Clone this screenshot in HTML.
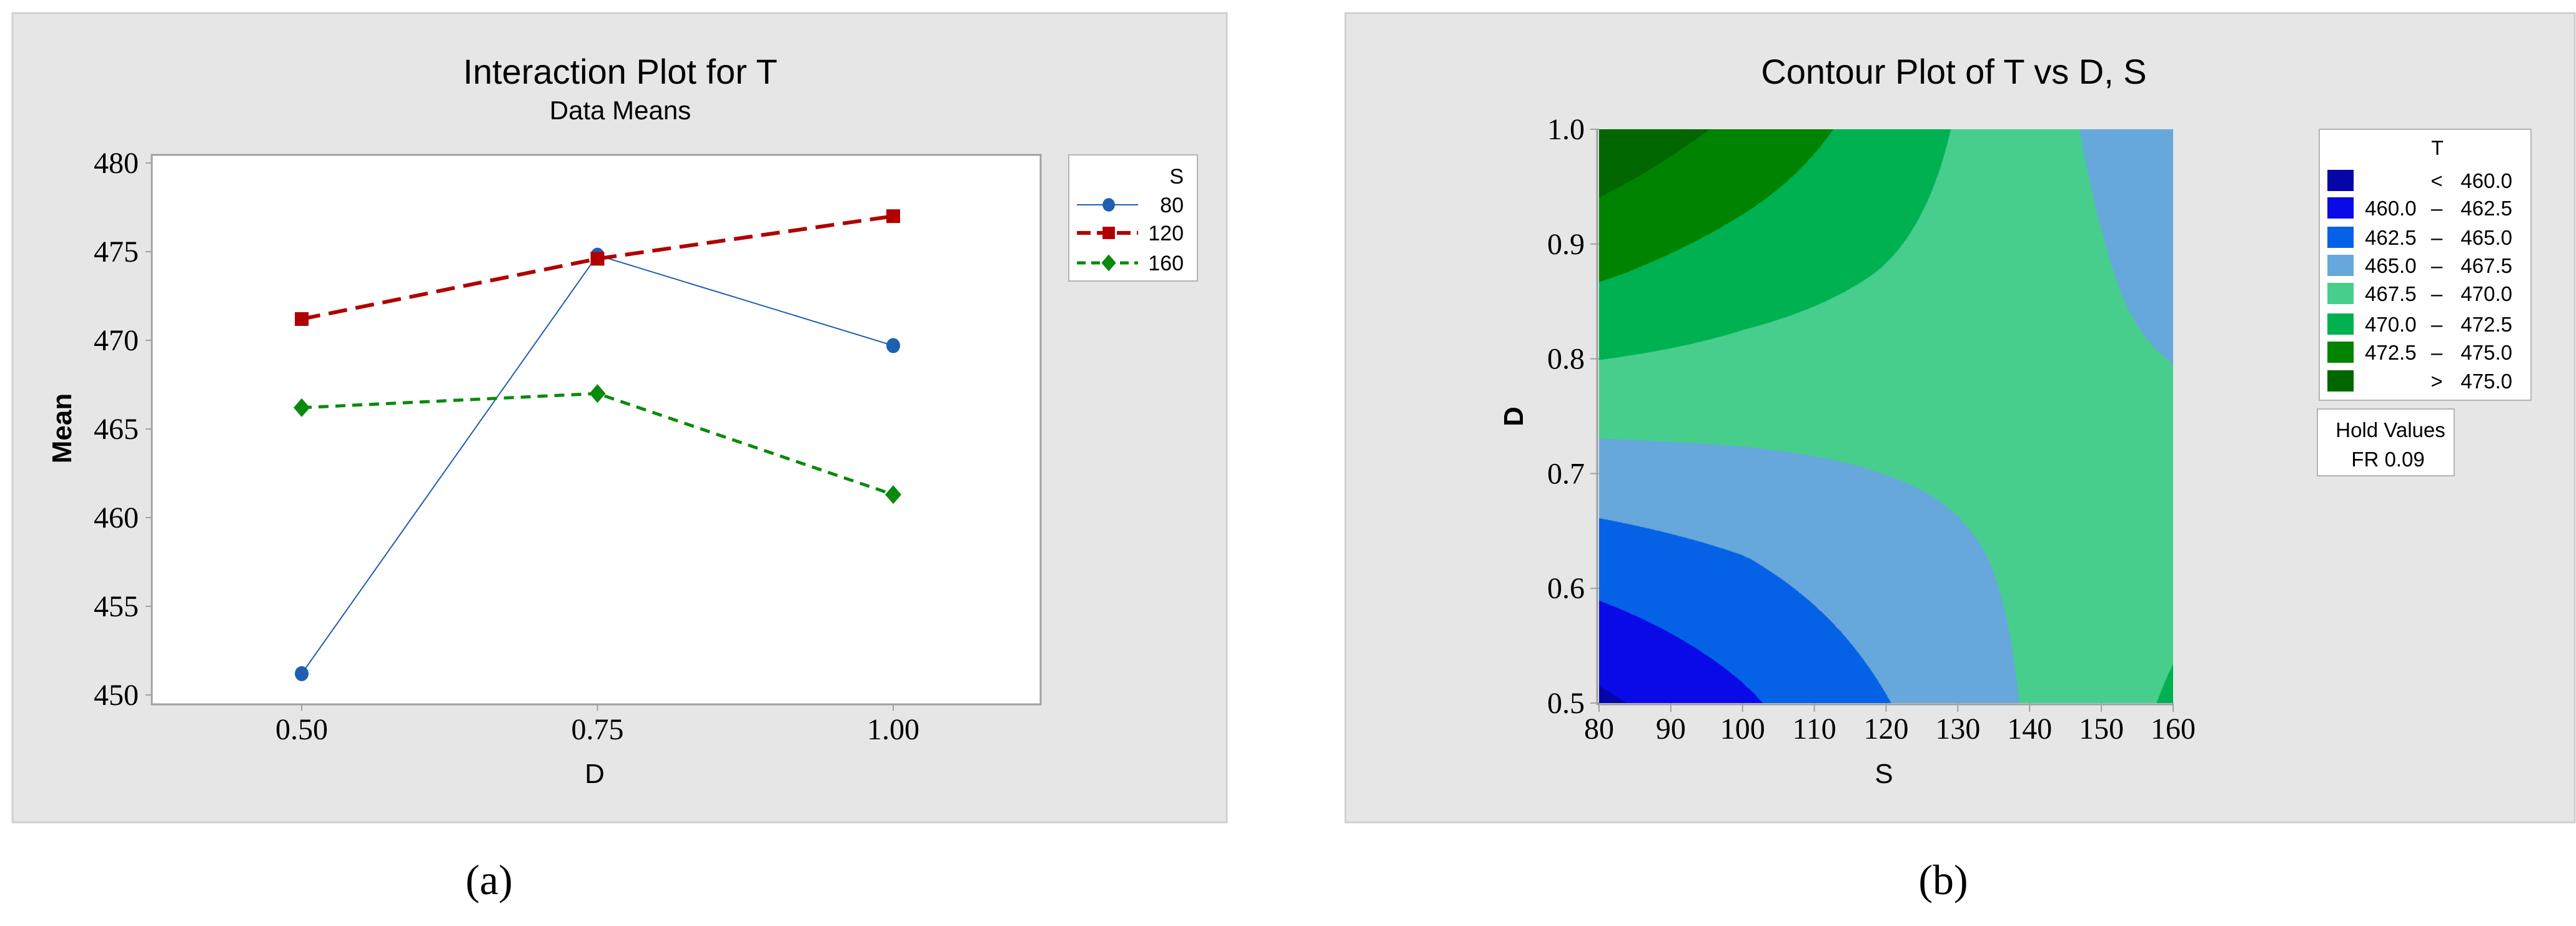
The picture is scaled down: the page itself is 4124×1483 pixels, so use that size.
<!DOCTYPE html>
<html><head><meta charset="utf-8"><style>
html,body{margin:0;padding:0;background:#fff;}
#wrap{position:relative;width:4124px;height:1483px;overflow:hidden;}
svg{position:absolute;left:0;top:0;}
#contour{position:absolute;}
</style></head><body>
<div id="wrap">
<svg id="svg" width="4124" height="1483" xmlns="http://www.w3.org/2000/svg" font-family="'Liberation Sans', sans-serif">
  <rect x="20" y="21" width="1944" height="1296" fill="#e6e6e6" stroke="#d0d0d0" stroke-width="3"/>
  <rect x="2154" y="21" width="1968" height="1296" fill="#e6e6e6" stroke="#d0d0d0" stroke-width="3"/>
  <g id="gA"></g>
  <g id="gB"></g>
  <text x="783" y="1432" font-family="'Liberation Serif', serif" font-size="68" text-anchor="middle">(a)</text>
  <text x="3111" y="1432" font-family="'Liberation Serif', serif" font-size="68" text-anchor="middle">(b)</text>
</svg>
<canvas id="contour"></canvas>
</div>
<script>
// ---- Interaction plot data ----
const dLevels = [0.50, 0.75, 1.00];
const dLabels = ["0.50", "0.75", "1.00"];
const meanTicks = [450, 455, 460, 465, 470, 475, 480];
const seriesNames = ["80", "120", "160"];
const meanS80 = [451.2, 474.8, 469.7];
const meanS120 = [471.2, 474.6, 477.0];
const meanS160 = [466.2, 467.0, 461.3];

// ---- Contour data ----
const sTicks = [80, 90, 100, 110, 120, 130, 140, 150, 160];
const dTicks = [0.5, 0.6, 0.7, 0.8, 0.9, 1.0];
const gridS = [80, 100, 120, 140, 160];
const gridD = [0.5, 0.625, 0.75, 0.875, 1.0];
// rows follow gridD, columns follow gridS
const gridT0 = [459.5, 462.1, 464.9, 467.7, 470.3];
const gridT1 = [463.7, 464.9, 466.5, 467.9, 469.2];
const gridT2 = [468.2, 468.2, 468.2, 468.2, 467.9];
const gridT3 = [472.8, 471.2, 469.9, 468.5, 466.8];
const gridT4 = [477.0, 474.4, 471.4, 468.3, 466.0];
const levelBreaks = [460.0, 462.5, 465.0, 467.5, 470.0, 472.5, 475.0];
const levelLabels = [["", "<", "460.0"], ["460.0", "–", "462.5"], ["462.5", "–", "465.0"], ["465.0", "–", "467.5"], ["467.5", "–", "470.0"], ["470.0", "–", "472.5"], ["472.5", "–", "475.0"], ["", ">", "475.0"]];
const levelColors = ["#0505a8", "#0a0ae8", "#0562e6", "#66a8dc", "#47ce8d", "#00b152", "#008300", "#006600"];

const NS = "http://www.w3.org/2000/svg";
function mk(parent, tag, attrs, text) {
  const e = document.createElementNS(NS, tag);
  for (const k in attrs) e.setAttribute(k, attrs[k]);
  if (text !== undefined) e.textContent = text;
  parent.appendChild(e);
  return e;
}
const serif = "'Liberation Serif', serif";

// ===== Panel A =====
const gA = document.getElementById('gA');
const ax = {x0: 243, x1: 1666, y0: 248, y1: 1128};
const xA = d => 483 + (d - 0.5) / 0.5 * (1430 - 483);
const yA = v => 261 + (480 - v) / 30 * (1113 - 261);
let e = mk(gA, 'rect', {x: ax.x0, y: ax.y0, width: ax.x1 - ax.x0, height: ax.y1 - ax.y0, fill: '#fff', stroke: '#a0a0a0', 'stroke-width': 3});


e = mk(gA, 'text', {x: 993, y: 134, 'font-size': 56, 'text-anchor': 'middle'}, 'Interaction Plot for T');


e = mk(gA, 'text', {x: 993, y: 191, 'font-size': 42, 'text-anchor': 'middle'}, 'Data Means');


meanTicks.forEach(v => {
  const y = yA(v);
  const t = mk(gA, 'line', {x1: ax.x0 - 10, x2: ax.x0, y1: y, y2: y, stroke: '#a0a0a0', 'stroke-width': 2});
  
  
  const l = mk(gA, 'text', {x: 222, y: y + 16, 'font-size': 48, 'font-family': serif, 'text-anchor': 'end'}, String(v));
  
  
});
dLevels.forEach((d, i) => {
  const x = xA(d);
  const t = mk(gA, 'line', {x1: x, x2: x, y1: ax.y1, y2: ax.y1 + 10, stroke: '#a0a0a0', 'stroke-width': 2});
  
  
  const l = mk(gA, 'text', {x: x, y: 1184, 'font-size': 48, 'font-family': serif, 'text-anchor': 'middle'}, dLabels[i]);
  
  
});
e = mk(gA, 'text', {x: 952, y: 1254, 'font-size': 44, 'text-anchor': 'middle'}, 'D');


e = mk(gA, 'text', {x: 0, y: 0, 'font-size': 44, 'font-weight': 'bold', 'text-anchor': 'middle', transform: 'translate(114,686) rotate(-90)'}, 'Mean');



const seriesDefs = [
  {vals: meanS80, color: '#1f5fb0', width: 2, dash: '', marker: 'circle'},
  {vals: meanS120, color: '#b00000', width: 6, dash: '30 14', marker: 'square'},
  {vals: meanS160, color: '#0a8a0a', width: 5, dash: '16 11', marker: 'diamond'}
];
function marker(g, type, x, y, color, s) {
  s = s || 1;
  if (type === 'circle') return mk(g, 'ellipse', {cx: x, cy: y, rx: 11 * s, ry: 12 * s, fill: color});
  if (type === 'square') return mk(g, 'rect', {x: x - 11 * s, y: y - 11 * s, width: 22 * s, height: 22 * s, fill: color});
  return mk(g, 'polygon', {points: `${x},${y - 15 * s} ${x + 13 * s},${y} ${x},${y + 15 * s} ${x - 13 * s},${y}`, fill: color});
}
seriesDefs.forEach((sd, si) => {
  const pts = sd.vals.map((v, i) => `${xA(dLevels[i])},${yA(v)}`).join(' ');
  const pl = mk(gA, 'polyline', {points: pts, fill: 'none', stroke: sd.color, 'stroke-width': sd.width, 'stroke-dasharray': sd.dash});
  
  
  sd.vals.forEach((v, i) => {
    const m = marker(gA, sd.marker, xA(dLevels[i]), yA(v), sd.color);
    
    
  });
});
// legend A
e = mk(gA, 'rect', {x: 1711, y: 248, width: 206, height: 202, fill: '#fff', stroke: '#b4b4b4', 'stroke-width': 2});


e = mk(gA, 'text', {x: 1895, y: 294, 'font-size': 34, 'text-anchor': 'end'}, 'S');


const legYs = [328, 373, 421];
seriesDefs.forEach((sd, si) => {
  const y = legYs[si];
  const ln = mk(gA, 'line', {x1: 1724, x2: 1822, y1: y, y2: y, stroke: sd.color, 'stroke-width': sd.width, 'stroke-dasharray': si === 1 ? '22 10' : (si === 2 ? '14 9' : '')});
  
  
  const m = marker(gA, sd.marker, 1775, y, sd.color, 0.9);
  
  
  const t = mk(gA, 'text', {x: 1895, y: y + 12, 'font-size': 34, 'text-anchor': 'end'}, seriesNames[si]);
  
  
});

// ===== Panel B =====
const gB = document.getElementById('gB');
const bx = {x0: 2560, x1: 3479, y0: 207, y1: 1126};
const xB = s => bx.x0 + (s - 80) / 80 * (bx.x1 - bx.x0);
const yB = d => bx.y1 - (d - 0.5) / 0.5 * (bx.y1 - bx.y0);
e = mk(gB, 'text', {x: 3128, y: 134, 'font-size': 56, 'text-anchor': 'middle'}, 'Contour Plot of T vs D, S');


e = mk(gB, 'line', {x1: bx.x0 - 3, x2: bx.x0 - 3, y1: bx.y0, y2: bx.y1 + 3, stroke: '#a0a0a0', 'stroke-width': 3});


e = mk(gB, 'line', {x1: bx.x0 - 3, x2: bx.x1, y1: bx.y1 + 2, y2: bx.y1 + 2, stroke: '#a0a0a0', 'stroke-width': 3});


dTicks.forEach(d => {
  const y = yB(d);
  const t = mk(gB, 'line', {x1: bx.x0 - 14, x2: bx.x0, y1: y, y2: y, stroke: '#a0a0a0', 'stroke-width': 2});
  
  
  const l = mk(gB, 'text', {x: 2537, y: y + 16, 'font-size': 48, 'font-family': serif, 'text-anchor': 'end'}, d.toFixed(1));
  
  
});
sTicks.forEach(s => {
  const x = xB(s);
  const t = mk(gB, 'line', {x1: x, x2: x, y1: bx.y1, y2: bx.y1 + 14, stroke: '#a0a0a0', 'stroke-width': 2});
  
  
  const l = mk(gB, 'text', {x: x, y: 1183, 'font-size': 48, 'font-family': serif, 'text-anchor': 'middle'}, String(s));
  
  
});
e = mk(gB, 'text', {x: 3016, y: 1254, 'font-size': 44, 'text-anchor': 'middle'}, 'S');


e = mk(gB, 'text', {x: 0, y: 0, 'font-size': 44, 'font-weight': 'bold', 'text-anchor': 'middle', transform: 'translate(2438,667) rotate(-90)'}, 'D');


// legend B
e = mk(gB, 'rect', {x: 3713, y: 207, width: 339, height: 434, fill: '#fff', stroke: '#b4b4b4', 'stroke-width': 2});


e = mk(gB, 'text', {x: 3902, y: 248, 'font-size': 32, 'text-anchor': 'middle'}, 'T');


const rowYs = [289, 333, 380, 425, 470, 519, 564, 610];
levelLabels.forEach((lab, i) => {
  const y = rowYs[i];
  const sw = mk(gB, 'rect', {x: 3726, y: y - 17, width: 42, height: 34, fill: levelColors[i]});
  
  
  if (lab[0]) {
    const a = mk(gB, 'text', {x: 3786, y: y + 12, 'font-size': 33}, lab[0]);
    
    
  }
  const b = mk(gB, 'text', {x: 3901, y: y + 12, 'font-size': 33, 'text-anchor': 'middle'}, lab[1]);
  
  
  const c = mk(gB, 'text', {x: 4022, y: y + 12, 'font-size': 33, 'text-anchor': 'end'}, lab[2]);
  
  
});
e = mk(gB, 'rect', {x: 3710, y: 655, width: 219, height: 107, fill: '#fff', stroke: '#b4b4b4', 'stroke-width': 2});


e = mk(gB, 'text', {x: 3827, y: 700, 'font-size': 33, 'text-anchor': 'middle'}, 'Hold Values');


e = mk(gB, 'text', {x: 3823, y: 747, 'font-size': 33, 'text-anchor': 'middle', 'xml:space': 'preserve'}, 'FR  0.09');



// contour fill
const grid = [gridT0, gridT1, gridT2, gridT3, gridT4];
function interp(s, d) {
  let ci = 0; while (ci < gridS.length - 2 && s > gridS[ci + 1]) ci++;
  let ri = 0; while (ri < gridD.length - 2 && d > gridD[ri + 1]) ri++;
  const u = (s - gridS[ci]) / (gridS[ci + 1] - gridS[ci]);
  const v = (d - gridD[ri]) / (gridD[ri + 1] - gridD[ri]);
  return grid[ri][ci] * (1 - u) * (1 - v) + grid[ri][ci + 1] * u * (1 - v) + grid[ri + 1][ci] * (1 - u) * v + grid[ri + 1][ci + 1] * u * v;
}
function hex(c) { return [parseInt(c.substr(1, 2), 16), parseInt(c.substr(3, 2), 16), parseInt(c.substr(5, 2), 16)]; }
const rgb = levelColors.map(hex);
const cv = document.getElementById('contour');
const W = bx.x1 - bx.x0, H = bx.y1 - bx.y0;
cv.width = W; cv.height = H;
cv.style.left = bx.x0 + 'px'; cv.style.top = bx.y0 + 'px';
const ctx = cv.getContext('2d');
const img = ctx.createImageData(W, H);
for (let py = 0; py < H; py++) {
  const d = 1.0 - (py + 0.5) / H * 0.5;
  for (let px = 0; px < W; px++) {
    const s = 80 + (px + 0.5) / W * 80;
    const t = interp(s, d);
    let k = 0; while (k < levelBreaks.length && t >= levelBreaks[k]) k++;
    const c = rgb[k], o = (py * W + px) * 4;
    img.data[o] = c[0]; img.data[o + 1] = c[1]; img.data[o + 2] = c[2]; img.data[o + 3] = 255;
  }
}
ctx.putImageData(img, 0, 0);
</script>
</body></html>
